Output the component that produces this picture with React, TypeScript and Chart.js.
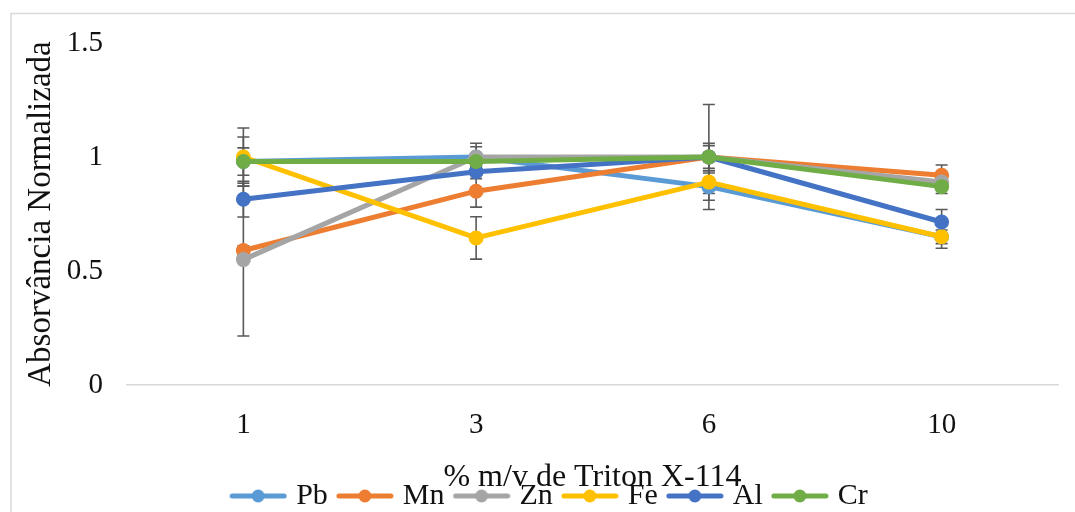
import React, { useEffect, useRef } from 'react';
import { Chart, registerables } from 'chart.js';

Chart.register(...registerables);

const categories = ['1', '3', '6', '10'];
const seriesNames = ['Pb', 'Mn', 'Zn', 'Fe', 'Al', 'Cr'];
const seriesColors = ['#5B9BD5', '#ED7D31', '#A5A5A5', '#FFC000', '#4472C4', '#70AD47'];

const pbValues = [0.98, 1.0, 0.87, 0.65];
const mnValues = [0.59, 0.85, 1.0, 0.92];
const znValues = [0.55, 1.0, 1.0, 0.89];
const feValues = [1.0, 0.645, 0.89, 0.65];
const alValues = [0.815, 0.935, 1.0, 0.715];
const crValues = [0.98, 0.98, 1.0, 0.87];

const pbErrors = [0.108, 0.045, 0.06, 0.03];
const mnErrors = [0.02, 0.07, 0.23, 0.045];
const znErrors = [0.335, 0.06, 0.06, 0.03];
const feErrors = [0.127, 0.093, 0.05, 0.05];
const alErrors = [0.078, 0.03, 0.02, 0.055];
const crErrors = [0.06, 0.02, 0.05, 0.03];

const yTickValues = [0, 0.5, 1, 1.5];
const yTickLabels = ['0', '0.5', '1', '1.5'];

const allValues = [pbValues, mnValues, znValues, feValues, alValues, crValues];
const allErrors = [pbErrors, mnErrors, znErrors, feErrors, alErrors, crErrors];

const FONT = "'Liberation Serif', 'Times New Roman', serif";

function makeLegendIcon(color: string): HTMLCanvasElement {
  const c = document.createElement('canvas');
  c.width = 58;
  c.height = 16;
  const ctx = c.getContext('2d')!;
  ctx.strokeStyle = color;
  ctx.lineWidth = 5;
  ctx.lineCap = 'round';
  ctx.beginPath();
  ctx.moveTo(3, 8);
  ctx.lineTo(55, 8);
  ctx.stroke();
  ctx.fillStyle = color;
  ctx.beginPath();
  ctx.arc(29, 8, 6.5, 0, Math.PI * 2);
  ctx.fill();
  return c;
}

const framePlugin = {
  id: 'frame',
  beforeDraw(chart: any) {
    const ctx = chart.ctx;
    ctx.save();
    ctx.fillStyle = '#ffffff';
    ctx.fillRect(0, 0, chart.width, chart.height);
    ctx.strokeStyle = '#D9D9D9';
    ctx.lineWidth = 1.5;
    ctx.strokeRect(11, 13.5, 1300, 700);
    ctx.restore();
  },
};

const errorBarPlugin = {
  id: 'errorBars',
  beforeDatasetsDraw(chart: any) {
    const ctx = chart.ctx;
    const xs = chart.scales.x;
    const ys = chart.scales.y;
    ctx.save();
    ctx.strokeStyle = '#595959';
    ctx.lineWidth = 1.6;
    chart.data.datasets.forEach((ds: any, i: number) => {
      const errs = allErrors[i];
      ds.data.forEach((v: number, j: number) => {
        const e = errs[j];
        const x = xs.getPixelForValue(j);
        const yTop = ys.getPixelForValue(v + e);
        const yBot = ys.getPixelForValue(v - e);
        ctx.beginPath();
        ctx.moveTo(x, yTop);
        ctx.lineTo(x, yBot);
        ctx.moveTo(x - 6, yTop);
        ctx.lineTo(x + 6, yTop);
        ctx.moveTo(x - 6, yBot);
        ctx.lineTo(x + 6, yBot);
        ctx.stroke();
      });
    });
    ctx.restore();
  },
};

export default function App() {
  const canvasRef = useRef<HTMLCanvasElement | null>(null);

  useEffect(() => {
    if (!canvasRef.current) return;
    const icons = seriesColors.map((c) => makeLegendIcon(c));
    const datasets = seriesNames.map((name, i) => ({
      label: name,
      data: allValues[i],
      borderColor: seriesColors[i],
      backgroundColor: seriesColors[i],
      pointBackgroundColor: seriesColors[i],
      pointBorderColor: seriesColors[i],
      borderWidth: 5,
      pointRadius: 6.5,
      pointBorderWidth: 2,
      pointHoverRadius: 6.5,
      borderCapStyle: 'round' as const,
      borderJoinStyle: 'round' as const,
      tension: 0,
      order: seriesNames.length - i,
    }));

    const chart = new Chart(canvasRef.current, {
      type: 'line',
      data: { labels: categories, datasets },
      plugins: [framePlugin, errorBarPlugin],
      options: {
        responsive: false,
        animation: false,
        layout: { padding: { top: 43, right: 17, left: 45, bottom: 0 } },
        plugins: {
          tooltip: { enabled: false },
          legend: {
            display: true,
            position: 'bottom',
            align: 'center',
            labels: {
              usePointStyle: true,
              pointStyleWidth: 46,
              boxWidth: 46,
              boxHeight: 16,
              padding: 14,
              color: '#111111',
              font: { family: FONT, size: 30 },
              sort: (a: any, b: any) => a.datasetIndex - b.datasetIndex,
              generateLabels: (ch: any) => {
                const items = (Chart.defaults.plugins.legend.labels as any).generateLabels(ch);
                items.forEach((it: any) => {
                  it.pointStyle = icons[it.datasetIndex];
                });
                return items;
              },
            },
          },
        },
        scales: {
          x: {
            type: 'category',
            offset: true,
            grid: { display: false, drawTicks: false },
            border: { display: true, color: '#D9D9D9', width: 1.5 },
            ticks: { color: '#111111', font: { family: FONT, size: 29 }, padding: 23, maxRotation: 0 },
            title: {
              display: true,
              text: '% m/v de Triton X-114',
              color: '#111111',
              font: { family: FONT, size: 32 },
              padding: { top: 0, bottom: -30 },
            },
            afterFit: (s: any) => {
              s.height = 82;
            },
          },
          y: {
            min: 0,
            max: 1.5,
            afterBuildTicks: (s: any) => {
              s.ticks = yTickValues.map((v) => ({ value: v }));
            },
            grid: { display: false, drawTicks: false },
            border: { display: false },
            ticks: {
              color: '#111111',
              font: { family: FONT, size: 29 },
              padding: 24,
              callback: (value: any) => {
                const idx = yTickValues.indexOf(Number(value));
                return idx >= 0 ? yTickLabels[idx] : String(value);
              },
            },
            title: {
              display: true,
              text: 'Absorvância Normalizada',
              color: '#111111',
              font: { family: FONT, size: 33 },
              padding: { top: -23, bottom: 0 },
            },
            afterFit: (s: any) => {
              s.width = 82;
            },
          },
        },
      },
    });
    return () => chart.destroy();
  }, []);

  return (
    <div
      style={{
        position: 'fixed',
        left: 0,
        top: 0,
        width: 1075,
        height: 512,
        overflow: 'hidden',
        background: '#fff',
      }}
    >
      <canvas ref={canvasRef} width={1075} height={521} style={{ display: 'block' }} />
    </div>
  );
}
